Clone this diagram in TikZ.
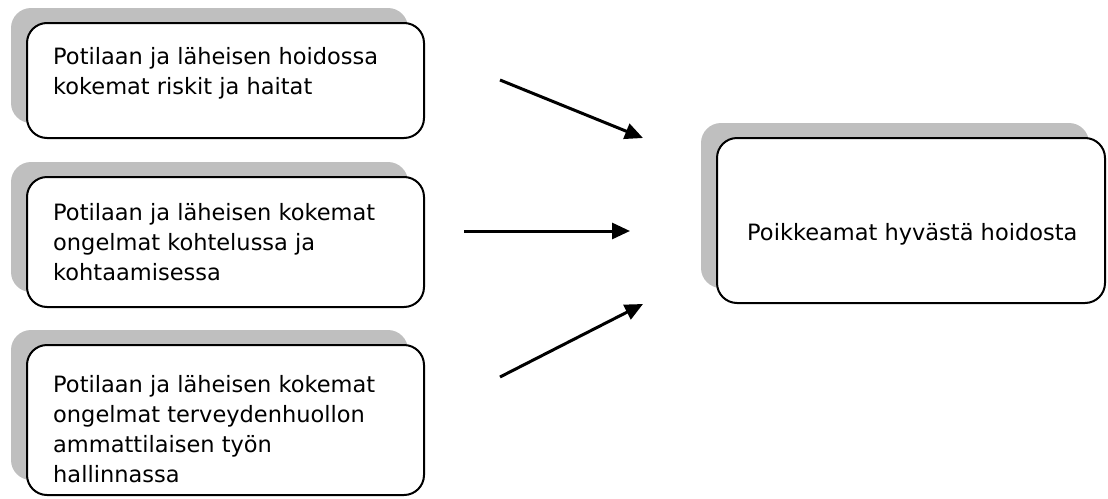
\documentclass[tikz,border=0pt]{standalone}
\usepackage{fontspec}
\setmainfont{DejaVu Sans}
\usetikzlibrary{arrows.meta,shadows}

\begin{document}
\begin{tikzpicture}
      [x=1pt,y=-1pt
      ,box/.style={draw=black,line width=2pt,fill=white,rounded corners=20pt,
        general shadow={fill=gray!50,shadow xshift=-16pt,shadow yshift=15pt}}
      ,txt/.style={inner sep=0pt,align=left,anchor=base west,
        font=\fontsize{22.5}{30}\selectfont}
      ,arr/.style={line width=3pt,-{Triangle[length=18pt,width=16pt]}}
      ]
        \useasboundingbox (0,0) rectangle (1108,498);
        \node[box,minimum width=397pt,minimum height=115pt] (riskit) at (225.5,80.5) {};
        \node[box,minimum width=397pt,minimum height=130pt] (kohtelu) at (225.5,242) {};
        \node[box,minimum width=397pt,minimum height=150pt] (hallinta) at (225.5,420) {};
        \node[box,minimum width=388pt,minimum height=165pt] (poikkeamat) at (911,220.5) {};
        \node[txt] (riskitteksti) at (53,94) {Potilaan ja läheisen hoidossa\\kokemat riskit ja haitat};
        \node[txt] (kohteluteksti) at (53,280) {Potilaan ja läheisen kokemat\\ongelmat kohtelussa ja\\kohtaamisessa};
        \node[txt] (hallintateksti) at (53,482) {Potilaan ja läheisen kokemat\\ongelmat terveydenhuollon\\ammattilaisen työn\\hallinnassa};
        \node[txt] (poikkeamatteksti) at (747,240) {Poikkeamat hyvästä hoidosta};
        \coordinate (nuoli1) at (500,80);
        \coordinate (kohde1) at (643,138);
        \coordinate (nuoli2) at (464,231);
        \coordinate (kohde2) at (630,231);
        \coordinate (nuoli3) at (500,377);
        \coordinate (kohde3) at (643,304);
        \draw[arr] (nuoli1) -- (kohde1);
        \draw[arr] (nuoli2) -- (kohde2);
        \draw[arr] (nuoli3) -- (kohde3);
      \end{tikzpicture}
\end{document}
